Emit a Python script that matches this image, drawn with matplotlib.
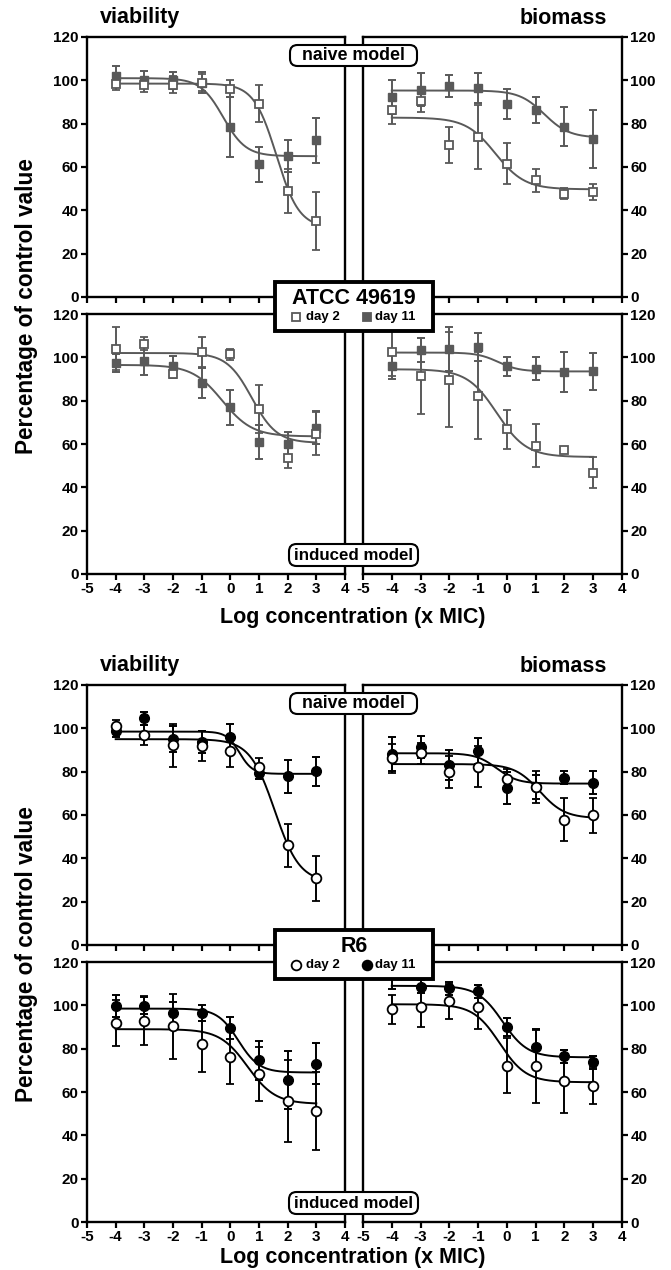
import numpy as np
import matplotlib
matplotlib.use('Agg')
import matplotlib.pyplot as plt
from matplotlib.lines import Line2D
from matplotlib.patches import Rectangle, FancyBboxPatch

plt.rcParams['font.family'] = ['Liberation Sans', 'DejaVu Sans']
plt.rcParams['font.weight'] = 'bold'
plt.rcParams['axes.unicode_minus'] = False

# ---------------- data ----------------
x_conc = [-4, -3, -2, -1, 0, 1, 2, 3]
x_ticks = [-5, -4, -3, -2, -1, 0, 1, 2, 3, 4]
y_ticks = [0, 20, 40, 60, 80, 100, 120]

# ATCC 49619
atcc_via_naive_d2 = [98.5, 97.7, 98.0, 99.0, 96.2, 89.2, 48.9, 35.1]
atcc_via_naive_d2_err = [3, 3, 4, 4, 4, 8.5, 10, 13.5]
atcc_via_naive_d11 = [101.8, 100.3, 100.0, 99.0, 78.5, 61.2, 65.0, 72.3]
atcc_via_naive_d11_err = [5, 4, 4, 5, 14, 8, 7.5, 10.5]

atcc_bio_naive_d2 = [86.2, 90.5, 70.3, 73.8, 61.5, 53.8, 47.7, 48.5]
atcc_bio_naive_d2_err = [6.5, 5, 8.3, 14.6, 9.5, 5.4, 2.5, 3.5]
atcc_bio_naive_d11 = [92.3, 95.7, 97.5, 96.6, 89.2, 86.5, 78.5, 73.0]
atcc_bio_naive_d11_err = [8, 7.5, 5, 7, 7, 6, 9, 13.5]

atcc_via_ind_d2 = [104.0, 106.2, 92.4, 102.5, 101.5, 76.3, 53.5, 64.7]
atcc_via_ind_d2_err = [10, 3, 2, 7, 2.5, 11, 4.5, 10]
atcc_via_ind_d11 = [97.4, 98.2, 95.8, 88.1, 77.0, 60.9, 60.1, 67.6]
atcc_via_ind_d11_err = [4, 6.5, 5, 7, 8, 8, 5.5, 7.5]

atcc_bio_ind_d2 = [102.3, 91.2, 89.7, 82.3, 66.9, 59.2, 57.3, 46.8]
atcc_bio_ind_d2_err = [11, 17.5, 22, 20, 9, 10, 1.5, 7]
atcc_bio_ind_d11 = [96.1, 103.2, 103.9, 104.6, 95.8, 94.8, 93.2, 93.5]
atcc_bio_ind_d11_err = [6, 5.5, 10, 6.5, 4.5, 5.4, 9.3, 8.5]

# R6
r6_via_naive_d2 = [101.0, 96.9, 92.2, 91.8, 89.5, 82.2, 46.0, 30.8]
r6_via_naive_d2_err = [3, 4.5, 10, 7, 7.5, 4, 10, 10.5]
r6_via_naive_d11 = [98.9, 104.6, 95.0, 93.8, 95.8, 79.4, 77.9, 80.2]
r6_via_naive_d11_err = [3, 3, 6, 5, 6, 3, 7.7, 6.6]

r6_bio_naive_d2 = [86.1, 88.4, 79.9, 82.2, 76.4, 73.0, 57.8, 59.8]
r6_bio_naive_d2_err = [6.5, 5, 7.5, 9.5, 5, 7.3, 10, 8]
r6_bio_naive_d11 = [88.1, 91.5, 83.0, 89.6, 72.5, 73.0, 77.3, 75.0]
r6_bio_naive_d11_err = [8, 5, 7, 6, 7.5, 5.5, 3, 5.3]

r6_via_ind_d2 = [91.9, 93.0, 90.3, 82.2, 76.1, 68.4, 55.9, 51.4]
r6_via_ind_d2_err = [10.5, 11.5, 15, 13, 12.3, 12.5, 19, 18]
r6_via_ind_d11 = [99.6, 99.9, 96.5, 96.5, 89.6, 74.6, 65.6, 73.0]
r6_via_ind_d11_err = [5, 4, 5, 3.5, 5, 9, 13.5, 9.5]

r6_bio_ind_d2 = [98.1, 99.2, 101.9, 99.2, 72.2, 71.8, 64.9, 62.9]
r6_bio_ind_d2_err = [6.5, 9.3, 8, 10, 12.5, 17, 14.5, 8.5]
r6_bio_ind_d11 = [115.0, 108.6, 108.0, 106.6, 90.0, 81.0, 76.4, 73.7]
r6_bio_ind_d11_err = [7.5, 3, 3, 3, 4, 8, 3, 3]

# sigmoidal fit parameters: top, bottom, logEC50, hill slope
atcc_via_naive_fit = [(98.5, 32.0, 1.61, 1.1), (101.0, 65.0, -0.25, 1.1)]
atcc_bio_naive_fit = [(82.8, 49.7, -0.40, 0.85), (95.3, 73.5, 1.30, 1.0)]
atcc_via_ind_fit = [(102.0, 60.5, 0.75, 1.0), (96.5, 63.5, -0.28, 0.83)]
atcc_bio_ind_fit = [(94.5, 54.0, -0.35, 0.85), (102.2, 93.5, -0.30, 1.2)]
r6_via_naive_fit = [(95.0, 29.0, 1.55, 1.0), (98.5, 79.0, 0.32, 1.9)]
r6_bio_naive_fit = [(83.5, 58.5, 1.14, 1.0), (88.5, 74.5, -0.35, 1.2)]
r6_via_ind_fit = [(89.0, 54.5, 0.60, 0.9), (98.5, 69.0, 0.28, 1.2)]
r6_bio_ind_fit = [(100.5, 64.5, -0.25, 0.95), (109.0, 76.0, -0.15, 1.0)]

GRAY = '#595959'
BLACK = '#000000'

W, H = 671, 1270
DPI = 100
fig = plt.figure(figsize=(W / DPI, H / DPI), dpi=DPI)


def ax_at(x0, x1, y0, y1):
    return fig.add_axes([x0 / W, 1 - y1 / H, (x1 - x0) / W, (y1 - y0) / H])


def hill(x, top, bottom, c, h):
    return bottom + (top - bottom) / (1 + 10 ** ((x - c) * h))


def panel(ax, side, xlabels, d2, e2, d11, e11, fits, color, marker, ms):
    ax.set_xlim(-5, 4)
    ax.set_ylim(0, 120)
    for s in ax.spines.values():
        s.set_linewidth(1.7)
    ax.set_xticks(x_ticks)
    ax.set_yticks(y_ticks)
    ax.tick_params(direction='out', length=4, width=1.6, labelsize=11, pad=2)
    if side == 'right':
        ax.yaxis.tick_right()
    if not xlabels:
        ax.tick_params(axis='x', labelbottom=False)
    xs = np.linspace(-4, 3, 300)
    ax.plot(xs, hill(xs, *fits[1]), color=color, lw=1.4, zorder=2)
    ax.plot(xs, hill(xs, *fits[0]), color=color, lw=1.4, zorder=2)
    ax.errorbar(x_conc, d11, yerr=e11, fmt=marker, ms=ms, mfc=color, mec=color,
                ecolor=color, elinewidth=1.4, capsize=3.2, capthick=1.4, zorder=3)
    ax.errorbar(x_conc, d2, yerr=e2, fmt=marker, ms=ms, mfc='white', mec=color,
                mew=1.3, ecolor=color, elinewidth=1.4, capsize=3.2, capthick=1.4, zorder=4)


def pill(text, x0, x1, y0, y1, fs):
    # rounded label box, given in pixel coordinates from top-left
    p = FancyBboxPatch((x0 / DPI, (H - y1) / DPI), (x1 - x0) / DPI, (y1 - y0) / DPI,
                       boxstyle='round,pad=0,rounding_size=0.075',
                       transform=fig.dpi_scale_trans, fc='white', ec='black', lw=1.5,
                       zorder=10)
    fig.add_artist(p)
    fig.text((x0 + x1) / 2 / W, 1 - (y0 + y1) / 2 / H, text, fontsize=fs,
             ha='center', va='center', zorder=11)


def block(y_off, color, marker, ms, sets, name, xlab_y):
    rows = [(37, 297), (314, 574)]
    cols = [(87, 345, 'left'), (363, 622, 'right')]
    for ri, (ya, yb) in enumerate(rows):
        for ci, (xa, xb, side) in enumerate(cols):
            ax = ax_at(xa, xb, ya + y_off, yb + y_off)
            d2, e2, d11, e11, fits = sets[ri][ci]
            panel(ax, side, ri == 1, d2, e2, d11, e11, fits, color, marker, ms)
    fig.text(100 / W, 1 - (23 + y_off) / H, 'viability', fontsize=15.5, ha='left', va='baseline')
    fig.text(607 / W, 1 - (24 + y_off) / H, 'biomass', fontsize=15.5, ha='right', va='baseline')
    fig.text(27 / W, 1 - (306 + y_off) / H, 'Percentage of control value', rotation=90,
             fontsize=16.3, ha='center', va='center')
    fig.text(353 / W, 1 - xlab_y / H, 'Log concentration (x MIC)',
             fontsize=15.5, ha='center', va='center')
    pill('naive model', 290, 417, 45 + y_off, 66 + y_off, 12.8)
    pill('induced model', 289, 418, 544 + y_off, 566 + y_off, 12.2)
    rect = Rectangle((275 / W, 1 - (331 + y_off) / H), 158 / W, 49 / H,
                     transform=fig.transFigure, fc='white', ec='black', lw=2.8, zorder=10)
    fig.add_artist(rect)
    fig.text(354 / W, 1 - (299 + y_off) / H, name, fontsize=15.5, ha='center',
             va='center', zorder=11)
    for mx, tx, lab, fc in [(296, 306, 'day 2', 'white'), (367, 375, 'day 11', color)]:
        fig.add_artist(Line2D([mx / W], [1 - (317 + y_off) / H], transform=fig.transFigure,
                              ls='none', marker=marker, ms=ms, mfc=fc, mec=color, mew=1.3,
                              zorder=11))
        fig.text(tx / W, 1 - (317 + y_off) / H, lab, fontsize=9.5, ha='left', va='center',
                 zorder=11)


atcc_sets = [
    [(atcc_via_naive_d2, atcc_via_naive_d2_err, atcc_via_naive_d11, atcc_via_naive_d11_err, atcc_via_naive_fit),
     (atcc_bio_naive_d2, atcc_bio_naive_d2_err, atcc_bio_naive_d11, atcc_bio_naive_d11_err, atcc_bio_naive_fit)],
    [(atcc_via_ind_d2, atcc_via_ind_d2_err, atcc_via_ind_d11, atcc_via_ind_d11_err, atcc_via_ind_fit),
     (atcc_bio_ind_d2, atcc_bio_ind_d2_err, atcc_bio_ind_d11, atcc_bio_ind_d11_err, atcc_bio_ind_fit)],
]
r6_sets = [
    [(r6_via_naive_d2, r6_via_naive_d2_err, r6_via_naive_d11, r6_via_naive_d11_err, r6_via_naive_fit),
     (r6_bio_naive_d2, r6_bio_naive_d2_err, r6_bio_naive_d11, r6_bio_naive_d11_err, r6_bio_naive_fit)],
    [(r6_via_ind_d2, r6_via_ind_d2_err, r6_via_ind_d11, r6_via_ind_d11_err, r6_via_ind_fit),
     (r6_bio_ind_d2, r6_bio_ind_d2_err, r6_bio_ind_d11, r6_bio_ind_d11_err, r6_bio_ind_fit)],
]

block(0, GRAY, 's', 5.8, atcc_sets, 'ATCC 49619', 617)
block(648, BLACK, 'o', 7, r6_sets, 'R6', 1257)

fig.savefig('out.png', dpi=DPI)
